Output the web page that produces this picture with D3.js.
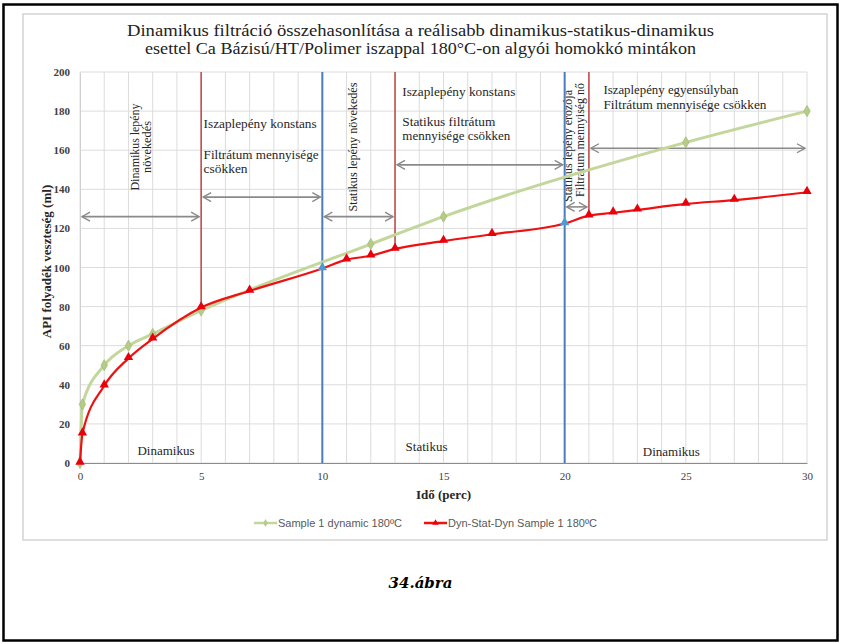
<!DOCTYPE html>
<html>
<head>
<meta charset="utf-8">
<script src="https://cdn.jsdelivr.net/npm/d3@7"></script>
<style>
  html, body { margin: 0; padding: 0; background: #fff; }
  svg { display: block; }
  .serif { font-family: "Liberation Serif", "Times New Roman", Times, "DejaVu Serif", serif; }
  .sans { font-family: "Liberation Sans", Arial, "DejaVu Sans", sans-serif; }
  .cap { font-family: "DejaVu Serif", serif; }
</style>
</head>
<body>
<svg id="chart" width="841" height="644"></svg>
<script>
// ---------------- data ----------------
const titleLines = [
  "Dinamikus filtráció összehasonlítása a reálisabb dinamikus-statikus-dinamikus",
  "esettel Ca Bázisú/HT/Polimer iszappal 180°C-on algyói homokkó mintákon"
];
const xTicks = [0, 5, 10, 15, 20, 25, 30];
const yTicks = [0, 20, 40, 60, 80, 100, 120, 140, 160, 180, 200];
const xLabel = "Idő (perc)";
const yLabel = "API folyadék veszteség (ml)";

const greenName = "Sample 1 dynamic 180ºC";
const greenTime = [0, 0.1, 1, 2, 3, 5, 12, 15, 25, 30];
const greenValues = [0, 30, 50, 60, 66, 78, 112, 126, 164, 180];

const redName = "Dyn-Stat-Dyn Sample 1 180ºC";
const redTime = [0, 0.1, 1, 2, 3, 5, 7, 10, 11, 12, 13, 15, 17, 20, 21, 22, 23, 25, 27, 30];
const redValues = [0, 15, 39.5, 53.5, 63.5, 79.5, 88, 99.5, 104, 106, 109.5, 113.5, 117, 122.5, 126.5, 128, 129.5, 132.5, 134.5, 138.5];

// phase switch times (blue full-height lines, blue markers)
const phaseSwitchTimes = [10, 20];
// sub-phase boundaries (red lines, from top down to the red series)
const subPhaseTimes = [5, 13, 21];

// double-headed arrows
const arrowFrom = [0, 5, 10, 13, 20, 21];
const arrowTo = [5, 10, 13, 20, 21, 30];
const arrowLevel = [126, 136, 126, 152.5, 131, 161];

const phaseNames = ["Dinamikus", "Statikus", "Dinamikus"];
const caption = "34.ábra";

// ---------------- layout ----------------
const svg = d3.select("#chart");
const W = 841, H = 644;
const plot = { left: 80, right: 807, top: 72, bottom: 463 };
const x = d3.scaleLinear().domain([0, 30]).range([plot.left, plot.right]);
const y = d3.scaleLinear().domain([0, 200]).range([plot.bottom, plot.top]);

const txtColor = "#262626";

// outer black frame
svg.append("rect").attr("x", 3.5).attr("y", 4.5).attr("width", 834).attr("height", 636)
  .attr("fill", "none").attr("stroke", "#000").attr("stroke-width", 2.5);
// inner chart frame
svg.append("rect").attr("x", 23).attr("y", 14).attr("width", 804).attr("height", 526)
  .attr("fill", "none").attr("stroke", "#d4d4d4").attr("stroke-width", 1.5);

// title
svg.append("g").attr("class", "serif").selectAll("text").data(titleLines).join("text")
  .attr("x", W / 2).attr("y", (d, i) => 36 + i * 18)
  .attr("text-anchor", "middle")
  .attr("font-size", 16.5)
  .attr("fill", "#222")
  .attr("textLength", (d, i) => i === 0 ? 587 : 551)
  .attr("lengthAdjust", "spacingAndGlyphs")
  .text(d => d);

// gridlines
const grid = svg.append("g");
grid.selectAll("line.v").data(d3.range(0, 31, 1)).join("line")
  .attr("x1", d => x(d)).attr("x2", d => x(d))
  .attr("y1", plot.top).attr("y2", plot.bottom)
  .attr("stroke", "#dcdcdc").attr("stroke-width", 1);
grid.selectAll("line.h").data(yTicks).join("line")
  .attr("x1", plot.left).attr("x2", plot.right)
  .attr("y1", d => y(d)).attr("y2", d => y(d))
  .attr("stroke", "#dcdcdc").attr("stroke-width", 1);

// axes
const xAxis = d3.axisBottom(x).tickValues(xTicks).tickSize(0).tickPadding(9);
const gx = svg.append("g").attr("transform", `translate(0,${plot.bottom})`).call(xAxis);
gx.attr("font-family", null).attr("class", "serif");
gx.select(".domain").attr("stroke", "#8c8c8c").attr("stroke-width", 1.2);
gx.selectAll("text").attr("font-size", 11).attr("fill", "#404040");

const yAxis = d3.axisLeft(y).tickValues(yTicks).tickSize(0).tickPadding(10);
const gy = svg.append("g").attr("transform", `translate(${plot.left},0)`).call(yAxis);
gy.attr("font-family", null).attr("class", "serif");
gy.select(".domain").attr("stroke", "#d0d0d0");
gy.selectAll("text").attr("font-size", 11).attr("font-weight", "bold").attr("fill", "#404040");

// axis titles
svg.append("text").attr("class", "serif").attr("x", x(15)).attr("y", 499).attr("text-anchor", "middle")
  .attr("font-size", 13).attr("font-weight", "bold").attr("fill", txtColor)
  .text(xLabel);
svg.append("text").attr("class", "serif")
  .attr("transform", `translate(51,${(plot.top + plot.bottom) / 2 - 6}) rotate(-90)`)
  .attr("text-anchor", "middle")
  .attr("font-size", 13).attr("font-weight", "bold").attr("fill", txtColor)
  .text(yLabel);

// red value lookup
const redAt = t => redValues[redTime.indexOf(t)];

// sub-phase red lines
svg.append("g").selectAll("line").data(subPhaseTimes).join("line")
  .attr("x1", d => x(d)).attr("x2", d => x(d))
  .attr("y1", plot.top).attr("y2", d => y(redAt(d)))
  .attr("stroke", "#c0504d").attr("stroke-width", 1.6);

// arrows
const defs = svg.append("defs");
defs.append("marker").attr("id", "chev").attr("viewBox", "-10 -6 12 12")
  .attr("refX", 0).attr("refY", 0).attr("markerWidth", 12).attr("markerHeight", 12)
  .attr("markerUnits", "userSpaceOnUse").attr("orient", "auto-start-reverse")
  .append("path").attr("d", "M-8,-4.5 L0,0 L-8,4.5").attr("fill", "none")
  .attr("stroke", "#8a8a8a").attr("stroke-width", 1.4);

svg.append("g").selectAll("line").data(arrowFrom).join("line")
  .attr("x1", (d, i) => x(d) + 2).attr("x2", (d, i) => x(arrowTo[i]) - 2)
  .attr("y1", (d, i) => y(arrowLevel[i])).attr("y2", (d, i) => y(arrowLevel[i]))
  .attr("stroke", "#8a8a8a").attr("stroke-width", 1.6)
  .attr("marker-start", "url(#chev)").attr("marker-end", "url(#chev)");

// annotations (horizontal)
const ann = svg.append("g").attr("class", "serif").attr("font-size", 13).attr("fill", txtColor);
const hText = [
  { t: 5.1, v: 171.4, s: "Iszaplepény konstans", len: 113 },
  { t: 5.1, v: 155.5, s: "Filtrátum mennyisége", len: 115 },
  { t: 5.1, v: 148.3, s: "csökken", len: 44 },
  { t: 13.3, v: 187.7, s: "Iszaplepény konstans", len: 113 },
  { t: 13.3, v: 172.4, s: "Statikus filtrátum", len: 93 },
  { t: 13.3, v: 165.2, s: "mennyisége csökken", len: 108 },
  { t: 21.6, v: 188.7, s: "Iszaplepény egyensúlyban", len: 135 },
  { t: 21.6, v: 181.0, s: "Filtrátum mennyisége csökken", len: 163 }
];
ann.selectAll("text.h").data(hText).join("text")
  .attr("x", d => x(d.t)).attr("y", d => y(d.v))
  .attr("textLength", d => d.len).attr("lengthAdjust", "spacingAndGlyphs")
  .text(d => d.s);

// rotated annotations
const vText = [
  { px: 139, cy: 147, s: "Dinamikus lepény", len: 87 },
  { px: 151, cy: 147, s: "növekedés", len: 52 },
  { px: 357, cy: 147, s: "Statikus lepény növekedés", len: 129 },
  { px: 572, cy: 146, s: "Statikus lepény erozója", len: 112 },
  { px: 584, cy: 140, s: "Filtrátum mennyiség nő", len: 114 }
];
ann.selectAll("text.v").data(vText).join("text")
  .attr("transform", d => `translate(${d.px},${d.cy}) rotate(-90)`)
  .attr("text-anchor", "middle")
  .attr("font-size", 12.5)
  .attr("textLength", d => d.len).attr("lengthAdjust", "spacingAndGlyphs")
  .text(d => d.s);

// blue phase lines
svg.append("g").selectAll("line").data(phaseSwitchTimes).join("line")
  .attr("x1", d => x(d)).attr("x2", d => x(d))
  .attr("y1", plot.top).attr("y2", plot.bottom)
  .attr("stroke", "#4a7ebb").attr("stroke-width", 2);

// phase names at bottom
const phaseCenters = [3.55, 14.3, 24.4];
const phaseBase = [4, 6, 3.5];
ann.selectAll("text.p").data(phaseNames).join("text")
  .attr("x", (d, i) => x(phaseCenters[i])).attr("y", (d, i) => y(phaseBase[i]))
  .attr("text-anchor", "middle").text(d => d);

// series lines
const line = d3.line().x(d => x(d[0])).y(d => y(d[1])).curve(d3.curveMonotoneX);
const greenPts = greenTime.map((t, i) => [t, greenValues[i]]);
const redPts = redTime.map((t, i) => [t, redValues[i]]);

svg.append("path").datum(greenPts).attr("d", line)
  .attr("fill", "none").attr("stroke", "#c3d69b").attr("stroke-width", 3);
svg.append("g").selectAll("path").data(greenPts).join("path")
  .attr("transform", d => `translate(${x(d[0])},${y(d[1])})`)
  .attr("d", d3.symbol(d3.symbolDiamond, 36))
  .attr("fill", "#b4cc86").attr("stroke", "#a6bf78").attr("stroke-width", 0.8);

svg.append("path").datum(redPts).attr("d", line)
  .attr("fill", "none").attr("stroke", "#ee1111").attr("stroke-width", 2.2);
svg.append("g").selectAll("path").data(redPts).join("path")
  .attr("transform", d => `translate(${x(d[0])},${y(d[1]) - 1})`)
  .attr("d", d3.symbol(d3.symbolTriangle, 38))
  .attr("fill", d => phaseSwitchTimes.includes(d[0]) ? "#4f9ad6" : "#e8000b");

// legend
const leg = svg.append("g").attr("class", "sans").attr("font-size", 11).attr("fill", "#595959");
const legItems = [
  { name: greenName, color: "#c3d69b", mcol: "#b4cc86", sym: d3.symbolDiamond, x0: 254 },
  { name: redName, color: "#ee1111", mcol: "#e8000b", sym: d3.symbolTriangle, x0: 424 }
];
const legY = 523;
legItems.forEach(it => {
  leg.append("line").attr("x1", it.x0).attr("x2", it.x0 + 23).attr("y1", legY).attr("y2", legY)
    .attr("stroke", it.color).attr("stroke-width", 2.5);
  leg.append("path").attr("transform", `translate(${it.x0 + 11.5},${legY})`)
    .attr("d", d3.symbol(it.sym, 18)).attr("fill", it.mcol);
  leg.append("text").attr("x", it.x0 + 24).attr("y", legY + 4).text(it.name);
});

// caption
svg.append("text").attr("class", "cap").attr("x", W / 2).attr("y", 588).attr("text-anchor", "middle")
  .attr("font-size", 15)
  .attr("font-weight", "bold").attr("font-style", "italic").attr("fill", "#000")
  .text(caption);
</script>
</body>
</html>
